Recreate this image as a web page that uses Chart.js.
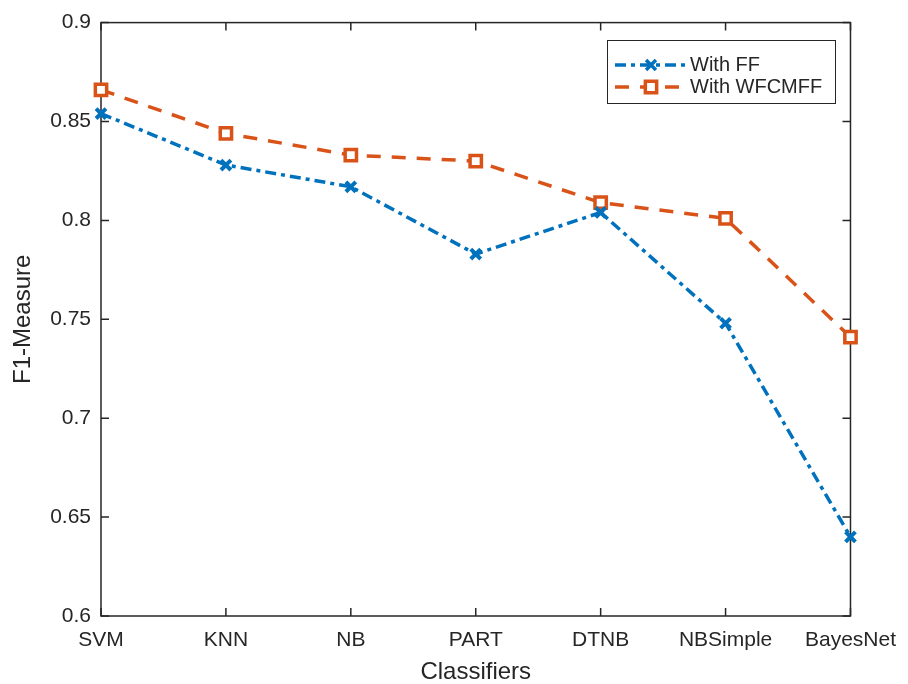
<!DOCTYPE html>
<html>
<head>
<meta charset="utf-8">
<script src="https://cdn.jsdelivr.net/npm/chart.js@4/dist/chart.umd.min.js"></script>
<style>
  html, body { margin: 0; padding: 0; background: #fff; }
  #wrap { width: 908px; height: 684px; }
</style>
</head>
<body>
<div id="wrap"><canvas id="f1Chart" width="908" height="684"></canvas></div>
<script>
// ===== data =====
const classifiers = ["SVM", "KNN", "NB", "PART", "DTNB", "NBSimple", "BayesNet"];
const withFF      = [0.854, 0.828, 0.817, 0.783, 0.804, 0.748, 0.640];
const withWFCMFF  = [0.866, 0.844, 0.833, 0.830, 0.809, 0.801, 0.741];
const yTickLabels = ["0.6", "0.65", "0.7", "0.75", "0.8", "0.85", "0.9"];

const BLUE = "#0072BD";
const ORANGE = "#D95319";
const INK = "#262626";
const FONT = "'Liberation Sans', Arial, Helvetica, sans-serif";

// box + inward ticks, drawn under the lines
const framePlugin = {
  id: "frame",
  beforeDatasetsDraw(chart) {
    const { ctx, chartArea: a, scales } = chart;
    ctx.save();
    ctx.strokeStyle = INK;
    ctx.lineWidth = 1.5;
    ctx.strokeRect(a.left, a.top, a.right - a.left, a.bottom - a.top);
    const tl = 8;
    ctx.beginPath();
    scales.y.ticks.forEach((t) => {
      const y = scales.y.getPixelForValue(t.value);
      ctx.moveTo(a.left, y); ctx.lineTo(a.left + tl, y);
      ctx.moveTo(a.right, y); ctx.lineTo(a.right - tl, y);
    });
    classifiers.forEach((c, i) => {
      const x = scales.x.getPixelForValue(i);
      ctx.moveTo(x, a.bottom); ctx.lineTo(x, a.bottom - tl);
      ctx.moveTo(x, a.top); ctx.lineTo(x, a.top + tl);
    });
    ctx.stroke();
    ctx.restore();
  }
};

// MATLAB-style legend box in the upper right
const legendPlugin = {
  id: "boxLegend",
  afterDraw(chart) {
    const { ctx } = chart;
    const x0 = 607, y0 = 40, w = 228, h = 63;
    ctx.save();
    ctx.fillStyle = "#fff";
    ctx.fillRect(x0, y0, w, h);
    ctx.strokeStyle = INK;
    ctx.lineWidth = 1;
    ctx.strokeRect(x0 + 0.5, y0 + 0.5, w, h);
    chart.data.datasets.forEach((ds, i) => {
      const y = y0 + 25 + i * 22;
      ctx.strokeStyle = ds.borderColor;
      ctx.lineWidth = ds.borderWidth;
      ctx.setLineDash(ds.borderDash);
      ctx.beginPath();
      ctx.moveTo(x0 + 8, y);
      ctx.lineTo(x0 + 80, y);
      ctx.stroke();
      ctx.setLineDash([]);
      ctx.fillStyle = ds.pointBackgroundColor;
      ctx.strokeStyle = ds.pointBorderColor;
      Chart.helpers.drawPoint(ctx, {
        pointStyle: ds.pointStyle,
        radius: ds.pointRadius,
        borderWidth: ds.pointBorderWidth,
        rotation: 0
      }, x0 + 44, y);
      ctx.fillStyle = INK;
      ctx.font = "20px " + FONT;
      ctx.textBaseline = "middle";
      ctx.fillText(ds.label, x0 + 83, y);
    });
    ctx.restore();
  }
};

new Chart(document.getElementById("f1Chart").getContext("2d"), {
  type: "line",
  data: {
    labels: classifiers,
    datasets: [
      {
        label: "With FF",
        data: withFF,
        borderColor: BLUE,
        backgroundColor: BLUE,
        borderWidth: 3.5,
        borderDash: [11, 5, 4, 5],
        pointStyle: "crossRot",
        pointRadius: 7,
        pointBorderWidth: 4,
        pointBorderColor: BLUE,
        pointBackgroundColor: BLUE,
        tension: 0,
        clip: false
      },
      {
        label: "With WFCMFF",
        data: withWFCMFF,
        borderColor: ORANGE,
        backgroundColor: "#fff",
        borderWidth: 3.5,
        borderDash: [14, 11],
        pointStyle: "rect",
        pointRadius: 8,
        pointBorderWidth: 3.5,
        pointBorderColor: ORANGE,
        pointBackgroundColor: "#fff",
        tension: 0,
        clip: false
      }
    ]
  },
  options: {
    responsive: false,
    animation: false,
    layout: { padding: { left: 0, top: 20, right: 53, bottom: 0 } },
    plugins: { legend: { display: false }, tooltip: { enabled: false } },
    scales: {
      x: {
        type: "category",
        offset: false,
        grid: { display: false, drawTicks: false },
        border: { display: false },
        ticks: { color: INK, font: { family: FONT, size: 21 }, padding: 12, maxRotation: 0, autoSkip: false },
        title: { display: true, text: "Classifiers", color: INK, font: { family: FONT, size: 24, lineHeight: 1 }, padding: 0 },
        afterFit(scale) { scale.height = 68; }
      },
      y: {
        min: 0.6,
        max: 0.9,
        grid: { display: false, drawTicks: false },
        border: { display: false },
        ticks: {
          stepSize: 0.05,
          color: INK,
          font: { family: FONT, size: 21 },
          padding: 10,
          callback: (v, i) => yTickLabels[i]
        },
        title: { display: true, text: "F1-Measure", color: INK, font: { family: FONT, size: 24, lineHeight: 1.2 }, padding: { top: 9, bottom: 0 } },
        afterFit(scale) { scale.width = 101; }
      }
    }
  },
  plugins: [framePlugin, legendPlugin]
});
</script>
</body>
</html>
